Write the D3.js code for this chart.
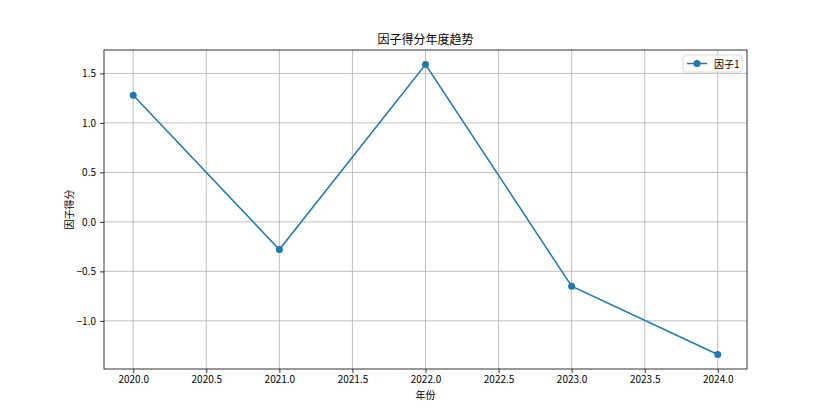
<!DOCTYPE html>
<html>
<head>
<meta charset="utf-8">
<script src="https://cdn.jsdelivr.net/npm/d3@7"></script>
<style>
  body { margin: 0; background: #fff; }
  text { font-family: "Noto Sans CJK SC", "DejaVu Sans", sans-serif; }
</style>
</head>
<body>
<script>
// data
var years = [2020, 2021, 2022, 2023, 2024];
var scores = [1.28, -0.28, 1.59, -0.65, -1.34];
var xTicks = [2020, 2020.5, 2021, 2021.5, 2022, 2022.5, 2023, 2023.5, 2024];
var yTicks = [-1.0, -0.5, 0.0, 0.5, 1.0, 1.5];

var width = 830, height = 415;
var margin = { top: 50, right: 83, bottom: 46, left: 104 };
var iw = width - margin.left - margin.right;
var ih = height - margin.top - margin.bottom;

var svg = d3.select("body").append("svg")
    .attr("width", width)
    .attr("height", height);

var g = svg.append("g")
    .attr("transform", "translate(" + margin.left + "," + margin.top + ")");

// matplotlib style 5% margins
var xPad = (d3.max(years) - d3.min(years)) * 0.05;
var yPad = (d3.max(scores) - d3.min(scores)) * 0.05;

var x = d3.scaleLinear()
    .domain([d3.min(years) - xPad, d3.max(years) + xPad])
    .range([0, iw]);

var y = d3.scaleLinear()
    .domain([d3.min(scores) - yPad, d3.max(scores) + yPad])
    .range([ih, 0]);

// grid
g.append("g").selectAll("line")
    .data(xTicks)
    .enter().append("line")
    .attr("x1", d => x(d)).attr("x2", d => x(d))
    .attr("y1", 0).attr("y2", ih)
    .attr("stroke", "#b0b0b0").attr("stroke-width", 0.8);

g.append("g").selectAll("line")
    .data(yTicks)
    .enter().append("line")
    .attr("x1", 0).attr("x2", iw)
    .attr("y1", d => y(d)).attr("y2", d => y(d))
    .attr("stroke", "#b0b0b0").attr("stroke-width", 0.8);

// axes
var fmt = d3.format(".1f");
var xAxis = g.append("g")
    .attr("transform", "translate(0," + ih + ")")
    .call(d3.axisBottom(x).tickValues(xTicks).tickFormat(fmt).tickSizeInner(4).tickSizeOuter(0).tickPadding(3));

var yAxis = g.append("g")
    .call(d3.axisLeft(y).tickValues(yTicks)
      .tickFormat(d => fmt(d).replace("-", "\u2212"))
      .tickSizeInner(4).tickSizeOuter(0).tickPadding(4));

[xAxis, yAxis].forEach(function (a) {
  a.select(".domain").remove();
  a.selectAll("text").attr("font-size", 10).attr("fill", "#000")
    .style("font-family", '"Noto Sans CJK SC", sans-serif');
  a.selectAll("line").attr("stroke", "#000").attr("stroke-width", 0.8);
});

// frame
g.append("rect")
    .attr("width", iw).attr("height", ih)
    .attr("fill", "none").attr("stroke", "#000").attr("stroke-width", 0.8);

// line + markers
var line = d3.line()
    .x((d, i) => x(years[i]))
    .y(d => y(d));

g.append("path")
    .datum(scores)
    .attr("d", line)
    .attr("fill", "none")
    .attr("stroke", "#1f77b4")
    .attr("stroke-width", 1.5);

g.selectAll("circle.pt")
    .data(scores)
    .enter().append("circle")
    .attr("class", "pt")
    .attr("cx", (d, i) => x(years[i]))
    .attr("cy", d => y(d))
    .attr("r", 3.5)
    .attr("fill", "#1f77b4");

// title and labels
svg.append("text")
    .attr("x", margin.left + iw / 2).attr("y", 44)
    .attr("text-anchor", "middle").attr("font-size", 12)
    .text("因子得分年度趋势");

svg.append("text")
    .attr("x", margin.left + iw / 2).attr("y", 399)
    .attr("text-anchor", "middle").attr("font-size", 10)
    .text("年份");

svg.append("text")
    .attr("transform", "translate(73," + (margin.top + ih / 2) + ") rotate(-90)")
    .attr("text-anchor", "middle").attr("font-size", 10)
    .text("因子得分");

// legend
var lg = g.append("g").attr("transform", "translate(" + (iw - 64) + ",5)");
lg.append("rect")
    .attr("width", 59).attr("height", 17).attr("rx", 2)
    .attr("fill", "#fff").attr("fill-opacity", 0.8)
    .attr("stroke", "#d0d0d0").attr("stroke-width", 0.8);
lg.append("line")
    .attr("x1", 4).attr("x2", 24).attr("y1", 8.5).attr("y2", 8.5)
    .attr("stroke", "#1f77b4").attr("stroke-width", 1.5);
lg.append("circle")
    .attr("cx", 14).attr("cy", 8.5).attr("r", 3.5).attr("fill", "#1f77b4");
lg.append("text")
    .attr("x", 31).attr("y", 12.5).attr("font-size", 10)
    .text("因子1");
</script>
</body>
</html>
